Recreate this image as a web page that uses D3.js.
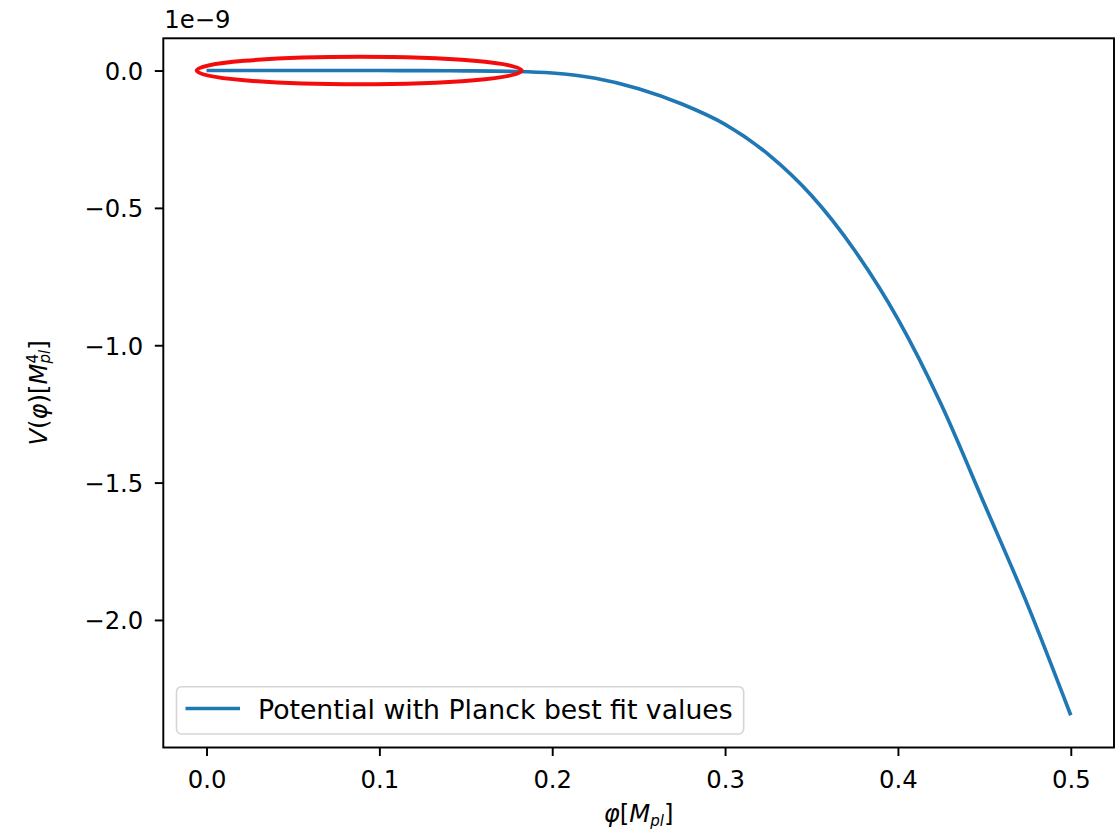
<!DOCTYPE html>
<html><head><meta charset="utf-8">
<script src="https://cdn.jsdelivr.net/npm/d3@7"></script>
<style>
body{margin:0;background:#fff}
svg{display:block}
text{font-family:"DejaVu Sans",sans-serif;fill:#000}
</style>
</head><body>
<svg id="chart" width="1119" height="835"></svg>
<script>
// ---- data (V in units of 1e-9 M_pl^4) ----
const phi = [0,0.025,0.05,0.075,0.1,0.125,0.15,0.175,0.2,0.225,0.25,0.275,0.3,0.325,0.35,0.375,0.4,0.425,0.45,0.475,0.5];
const potential = [0,0,0,0,0,-0.0003,-0.001,-0.003,-0.009,-0.028,-0.066,-0.122,-0.196,-0.305,-0.455,-0.655,-0.905,-1.215,-1.578,-1.945,-2.347];
const xTicks = [0,0.1,0.2,0.3,0.4,0.5];
const xTickLabels = ["0.0","0.1","0.2","0.3","0.4","0.5"];
const yTicks = [0,-0.5,-1,-1.5,-2];
const yTickLabels = ["0.0","\u22120.5","\u22121.0","\u22121.5","\u22122.0"];
const seriesName = "Potential with Planck best fit values";
const offsetText = "1e\u22129";
// highlighted region (red ellipse annotation): centre phi, centre V, half-width (phi), half-height (V)
const highlightCenter = [0.0883, 0];
const highlightRadii = [0.094, 0.05];

// ---- layout ----
const FS = 24.3, LFS = 26.7, SS = 0.62;
const L = 163.3, R = 1114, T = 38.3, B = 747.5;
const svg = d3.select("#chart");

const xMin = d3.min(phi), xMax = d3.max(phi);
const yMin = d3.min(potential), yMax = d3.max(potential);
const xPad = (xMax - xMin) * 0.05, yPad = (yMax - yMin) * 0.05;
const x = d3.scaleLinear().domain([xMin - xPad, xMax + xPad]).range([L, R]);
const y = d3.scaleLinear().domain([yMin - yPad, yMax + yPad]).range([B, T]);

// line
const data = phi.map((p, i) => [p, potential[i]]);
svg.append("path")
  .datum(data)
  .attr("fill", "none")
  .attr("stroke", "#1f77b4")
  .attr("stroke-width", 3.65)
  .attr("d", d3.line().x(d => x(d[0])).y(d => y(d[1])).curve(d3.curveMonotoneX));

// axes
const xAxis = svg.append("g").attr("transform", `translate(0,${B})`)
  .call(d3.axisBottom(x).tickValues(xTicks).tickSize(8.5).tickFormat((d, i) => xTickLabels[i]));
xAxis.select(".domain").remove();
xAxis.selectAll(".tick line").attr("stroke", "#000").attr("stroke-width", 1.94);
xAxis.selectAll(".tick text").attr("y", 40.2).attr("dy", null)
  .style("font-size", FS + "px").style("font-family", "DejaVu Sans").attr("fill", "#000");

const yAxis = svg.append("g").attr("transform", `translate(${L},0)`)
  .call(d3.axisLeft(y).tickValues(yTicks).tickSize(8.5).tickFormat((d, i) => yTickLabels[i]));
yAxis.select(".domain").remove();
yAxis.selectAll(".tick line").attr("stroke", "#000").attr("stroke-width", 1.94);
yAxis.selectAll(".tick text").attr("x", -20).attr("dy", null).attr("y", 8.85)
  .style("font-size", FS + "px").style("font-family", "DejaVu Sans").attr("fill", "#000");

// spines
svg.append("rect").attr("x", L).attr("y", T).attr("width", R - L).attr("height", B - T)
  .attr("fill", "none").attr("stroke", "#000").attr("stroke-width", 1.94);

// red highlight ellipse
svg.append("ellipse")
  .attr("cx", x(highlightCenter[0]))
  .attr("cy", y(highlightCenter[1]))
  .attr("rx", x(highlightCenter[0] + highlightRadii[0]) - x(highlightCenter[0]))
  .attr("ry", y(highlightCenter[1]) - y(highlightCenter[1] + highlightRadii[1]))
  .attr("fill", "none").attr("stroke", "#f40c0c").attr("stroke-width", 4);

// offset text
svg.append("text").attr("x", L + 1).attr("y", 28.3).style("font-size", FS + "px").text(offsetText);

// math label helper
function mathLabel(g, pieces) {
  let cx = 0;
  let lastStart = 0, lastW = 0;
  pieces.forEach(p => {
    const size = p.small ? FS * SS : FS;
    const t = g.append("text")
      .style("font-size", size + "px")
      .style("font-style", p.it ? "oblique" : "normal")
      .text(p.t);
    const w = t.node().getComputedTextLength();
    let px = cx;
    if (p.stack) { px = lastStart; }
    t.attr("x", px).attr("y", p.shift || 0);
    if (p.stack) { cx = lastStart + Math.max(lastW, w); }
    else { lastStart = cx; lastW = w; cx += w; }
  });
  g.selectAll("text").attr("x", function(){ return +d3.select(this).attr("x") - cx / 2; });
}

// x label
const xl = svg.append("g").attr("transform", `translate(${(L + R) / 2},822)`);
mathLabel(xl, [
  {t: "\u03c6", it: true},
  {t: "[", it: false},
  {t: "M", it: true},
  {t: "pl", it: true, small: true, shift: 4},
  {t: "]", it: false}
]);

// y label
const yl = svg.append("g").attr("transform", `translate(47,${(T + B) / 2}) rotate(-90)`);
mathLabel(yl, [
  {t: "V", it: true},
  {t: "(", it: false},
  {t: "\u03c6", it: true},
  {t: ")", it: false},
  {t: "[", it: false},
  {t: "M", it: true},
  {t: "pl", it: true, small: true, shift: 2.5},
  {t: "4", it: false, small: true, shift: -9.5, stack: true},
  {t: "]", it: false}
]);

// legend
const lg = svg.append("g");
const lx = 176.5, ly = 686.7, lh = 47.3;
const ltext = lg.append("text").attr("x", 258).attr("y", 718.8).style("font-size", LFS + "px").text(seriesName);
const tw = ltext.node().getComputedTextLength();
lg.insert("rect", "text").attr("x", lx).attr("y", ly).attr("width", 258 + tw + 11 - lx).attr("height", lh)
  .attr("rx", 5).attr("ry", 5)
  .attr("fill", "#fff").attr("fill-opacity", 0.8).attr("stroke", "#d5d5d5").attr("stroke-width", 1.6);
lg.append("line").attr("x1", 185.5).attr("x2", 240).attr("y1", 708.5).attr("y2", 708.5)
  .attr("stroke", "#1f77b4").attr("stroke-width", 3.65);
</script>
</body></html>
